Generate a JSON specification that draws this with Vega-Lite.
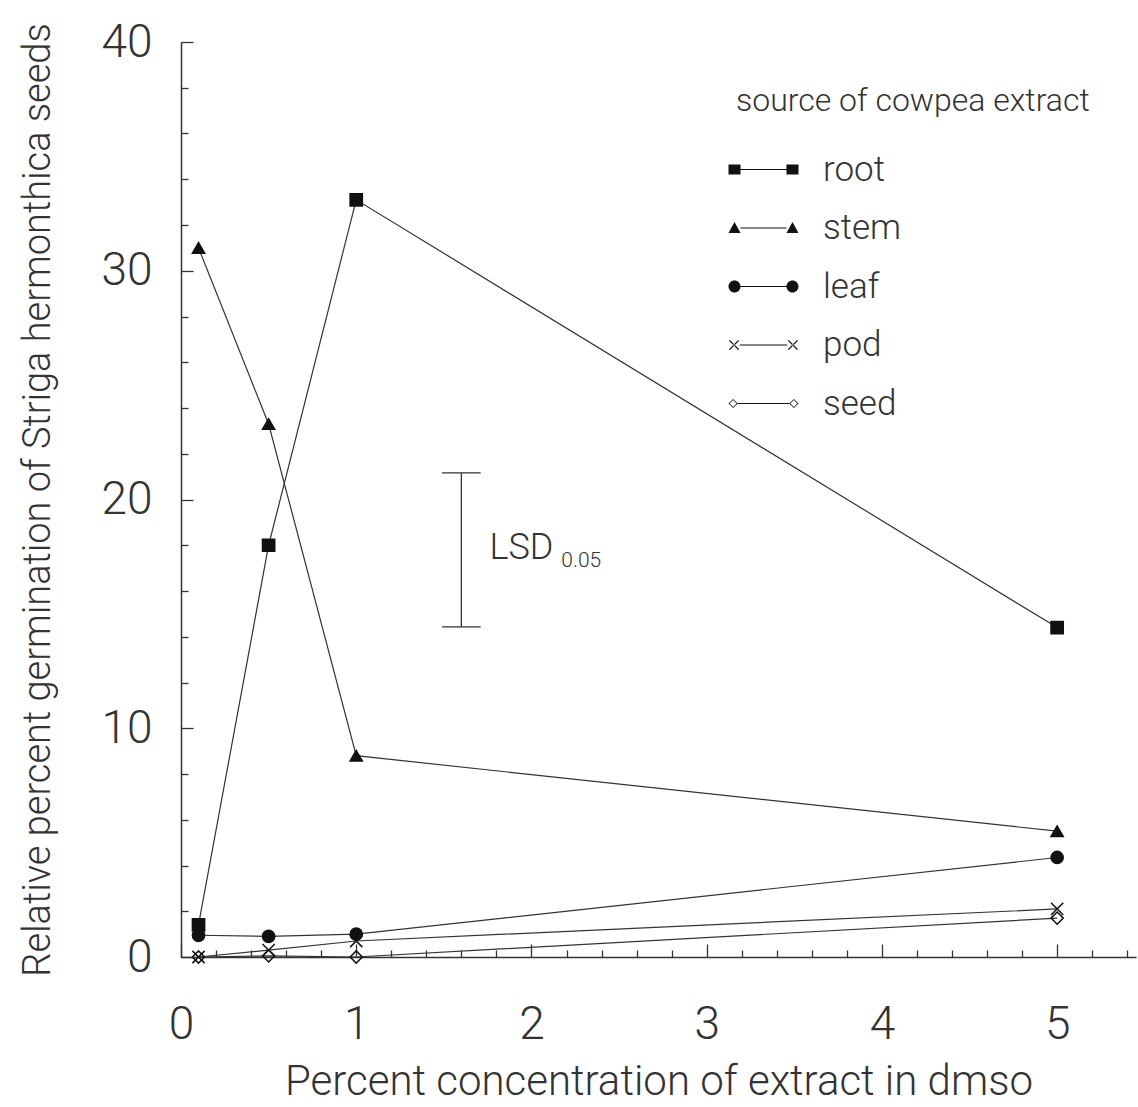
{
  "$schema": "https://vega.github.io/schema/vega-lite/v6.json",
  "autosize": {"type": "none"},
  "padding": {"left": 181, "top": 42, "right": 2, "bottom": 150},
  "width": 955,
  "height": 915,
  "background": "white",
  "config": {
    "view": {"stroke": null},
    "font": "Roboto",
    "axis": {
      "domainColor": "#333",
      "domainWidth": 1.5,
      "tickColor": "#333",
      "tickWidth": 1.3,
      "labelColor": "#333",
      "titleColor": "#333",
      "grid": false,
      "labelFont": "Roboto",
      "labelFontWeight": 300,
      "titleFontWeight": 300,
      "titleFont": "Roboto"
    }
  },
  "datasets": {
    "germination": [
      {"source": "root", "conc": 0.1, "pct": 1.4},
      {"source": "root", "conc": 0.5, "pct": 18.0},
      {"source": "root", "conc": 1, "pct": 33.1},
      {"source": "root", "conc": 5, "pct": 14.4},
      {"source": "stem", "conc": 0.1, "pct": 31.0},
      {"source": "stem", "conc": 0.5, "pct": 23.3},
      {"source": "stem", "conc": 1, "pct": 8.8},
      {"source": "stem", "conc": 5, "pct": 5.5},
      {"source": "leaf", "conc": 0.1, "pct": 0.95},
      {"source": "leaf", "conc": 0.5, "pct": 0.9},
      {"source": "leaf", "conc": 1, "pct": 1.0},
      {"source": "leaf", "conc": 5, "pct": 4.35},
      {"source": "pod", "conc": 0.1, "pct": 0},
      {"source": "pod", "conc": 0.5, "pct": 0.3},
      {"source": "pod", "conc": 1, "pct": 0.7},
      {"source": "pod", "conc": 5, "pct": 2.1},
      {"source": "seed", "conc": 0.1, "pct": 0},
      {"source": "seed", "conc": 0.5, "pct": 0.05},
      {"source": "seed", "conc": 1, "pct": 0},
      {"source": "seed", "conc": 5, "pct": 1.7}
    ],
    "lsd": [
      {"x": 1.6, "lo": 14.43, "hi": 21.16, "capLeft": 1.49, "capRight": 1.71}
    ],
    "lsdText": [
      {"x": 1.76, "y": 17.9, "text": "LSD", "size": "big"},
      {"x": 2.17, "y": 17.3, "text": "0.05", "size": "small"}
    ]
  },
  "resolve": {"scale": {"shape": "independent", "fill": "independent"}},
  "layer": [
    {
      "mark": {"type": "rule", "color": "#333", "strokeWidth": 1.3},
      "encoding": {"y": {"datum": 40, "type": "quantitative"}}
    },
    {
      "data": {"name": "germination"},
      "mark": {"type": "line", "color": "#333", "strokeWidth": 1.2},
      "encoding": {
        "x": {
          "field": "conc",
          "type": "quantitative",
          "scale": {"domain": [0, 5.45], "nice": false, "zero": true},
          "axis": {
            "title": "Percent concentration of extract in dmso",
            "titleFontSize": 42,
            "titlePadding": 8,
            "values": [0, 0.2, 0.4, 0.6, 0.8, 1, 1.2, 1.4, 1.6, 1.8, 2, 2.2, 2.4, 2.6, 2.8, 3, 3.2, 3.4, 3.6, 3.8, 4, 4.2, 4.4, 4.6, 4.8, 5, 5.2, 5.4],
            "tickCount": 60,
            "labelExpr": "datum.value % 1 === 0 ? format(datum.value, 'd') : ''",
            "labelFontSize": 46,
            "labelPadding": 58,
            "labelFlush": false,
            "labelOverlap": false,
            "tickSize": {"condition": {"test": "datum.value % 1 === 0", "value": -13}, "value": -7}
          }
        },
        "y": {
          "field": "pct",
          "type": "quantitative",
          "scale": {"domain": [0, 40], "nice": false, "zero": true},
          "axis": {
            "title": "Relative percent germination of Striga hermonthica seeds",
            "titleFontSize": 38,
            "titlePadding": 43,
            "values": [0, 2, 4, 6, 8, 10, 12, 14, 16, 18, 20, 22, 24, 26, 28, 30, 32, 34, 36, 38, 40],
            "tickCount": 60,
            "labelExpr": "datum.value % 10 === 0 ? format(datum.value, 'd') : ''",
            "labelFontSize": 46,
            "labelPadding": 41,
            "labelFlush": false,
            "labelOverlap": false,
            "tickSize": {"condition": {"test": "datum.value % 10 === 0", "value": -12}, "value": -7}
          }
        },
        "detail": {"field": "source", "type": "nominal"},
        "order": {"field": "conc", "type": "quantitative"}
      }
    },
    {
      "data": {"name": "germination"},
      "mark": {"type": "point", "stroke": "#111", "strokeWidth": 1.5, "size": 150, "opacity": 1},
      "encoding": {
        "x": {"field": "conc", "type": "quantitative"},
        "y": {"field": "pct", "type": "quantitative"},
        "shape": {
          "field": "source",
          "type": "nominal",
          "scale": {
            "domain": ["root", "stem", "leaf", "pod", "seed"],
            "range": ["square", "triangle-up", "circle", "M-1,-1L1,1M-1,1L1,-1", "diamond"]
          },
          "legend": null
        },
        "fill": {
          "field": "source",
          "type": "nominal",
          "scale": {
            "domain": ["root", "stem", "leaf", "pod", "seed"],
            "range": ["#111", "#111", "#111", "transparent", "transparent"]
          },
          "legend": null
        }
      }
    },
    {
      "data": {"name": "germination"},
      "transform": [{"filter": "datum.pct < -100"}],
      "mark": {"type": "point", "filled": true, "color": "#111", "opacity": 1},
      "encoding": {
        "x": {"field": "conc", "type": "quantitative"},
        "y": {"field": "pct", "type": "quantitative"},
        "shape": {
          "field": "source",
          "type": "nominal",
          "scale": {
            "domain": ["root", "stem", "leaf", "pod", "seed"],
            "range": [
              "M-2.5,-0.36H-1.64V0.36H-2.5Z M1.64,-0.36H2.5V0.36H1.64Z M-1.64,-0.04H1.64V0.04H-1.64Z",
              "M-2.5,0.36L-2.07,-0.43L-1.64,0.36Z M1.64,0.36L2.07,-0.43L2.5,0.36Z M-1.64,-0.04H1.64V0.04H-1.64Z",
              "M-2.5,0A0.43,0.43 0 1,0 -1.64,0A0.43,0.43 0 1,0 -2.5,0Z M1.64,0A0.43,0.43 0 1,0 2.5,0A0.43,0.43 0 1,0 1.64,0Z M-1.64,-0.04H1.64V0.04H-1.64Z",
              "M-2.395,-0.365L-1.735,0.295L-1.805,0.365L-2.465,-0.295Z M-2.395,0.365L-1.735,-0.295L-1.805,-0.365L-2.465,0.295Z M1.805,-0.365L2.465,0.295L2.395,0.365L1.735,-0.295Z M1.805,0.365L2.465,-0.295L2.395,-0.365L1.735,0.295Z M-1.7,-0.04H1.7V0.04H-1.7Z",
              "M-2.5,0L-2.17,-0.33L-1.84,0L-2.17,0.33Z M-2.42,0L-2.17,0.25L-1.92,0L-2.17,-0.25Z M1.84,0L2.17,-0.33L2.5,0L2.17,0.33Z M1.92,0L2.17,0.25L2.42,0L2.17,-0.25Z M-1.84,-0.04H1.84V0.04H-1.84Z"
            ]
          },
          "legend": {
            "title": "source of cowpea extract",
            "orient": "none",
            "legendX": 555,
            "legendY": 44,
            "padding": 0,
            "titleFont": "Roboto",
            "titleFontSize": 32,
            "titleFontWeight": 300,
            "titleColor": "#333",
            "titlePadding": 34,
            "titleLimit": 800,
            "labelFont": "Roboto",
            "labelFontSize": 35,
            "labelFontWeight": 300,
            "labelColor": "#333",
            "labelLimit": 400,
            "labelOffset": 42,
            "rowPadding": 22.5,
            "symbolOffset": 10,
            "symbolSize": 784,
            "symbolStrokeWidth": 0,
            "symbolOpacity": 1,
            "symbolFillColor": "#111"
          }
        }
      }
    },
    {
      "data": {"name": "lsd"},
      "mark": {"type": "rule", "color": "#333", "strokeWidth": 1.3},
      "encoding": {
        "x": {"field": "x", "type": "quantitative"},
        "y": {"field": "lo", "type": "quantitative"},
        "y2": {"field": "hi"}
      }
    },
    {
      "data": {"name": "lsd"},
      "mark": {"type": "rule", "color": "#333", "strokeWidth": 1.3},
      "encoding": {
        "x": {"field": "capLeft", "type": "quantitative"},
        "x2": {"field": "capRight"},
        "y": {"field": "hi", "type": "quantitative"}
      }
    },
    {
      "data": {"name": "lsd"},
      "mark": {"type": "rule", "color": "#333", "strokeWidth": 1.3},
      "encoding": {
        "x": {"field": "capLeft", "type": "quantitative"},
        "x2": {"field": "capRight"},
        "y": {"field": "lo", "type": "quantitative"}
      }
    },
    {
      "data": {"name": "lsdText"},
      "mark": {"type": "text", "align": "left", "baseline": "middle", "color": "#333", "font": "Roboto", "fontWeight": 300},
      "encoding": {
        "x": {"field": "x", "type": "quantitative"},
        "y": {"field": "y", "type": "quantitative"},
        "text": {"field": "text"},
        "size": {
          "field": "size",
          "type": "nominal",
          "scale": {"domain": ["big", "small"], "range": [36, 21]},
          "legend": null
        }
      }
    }
  ]
}
